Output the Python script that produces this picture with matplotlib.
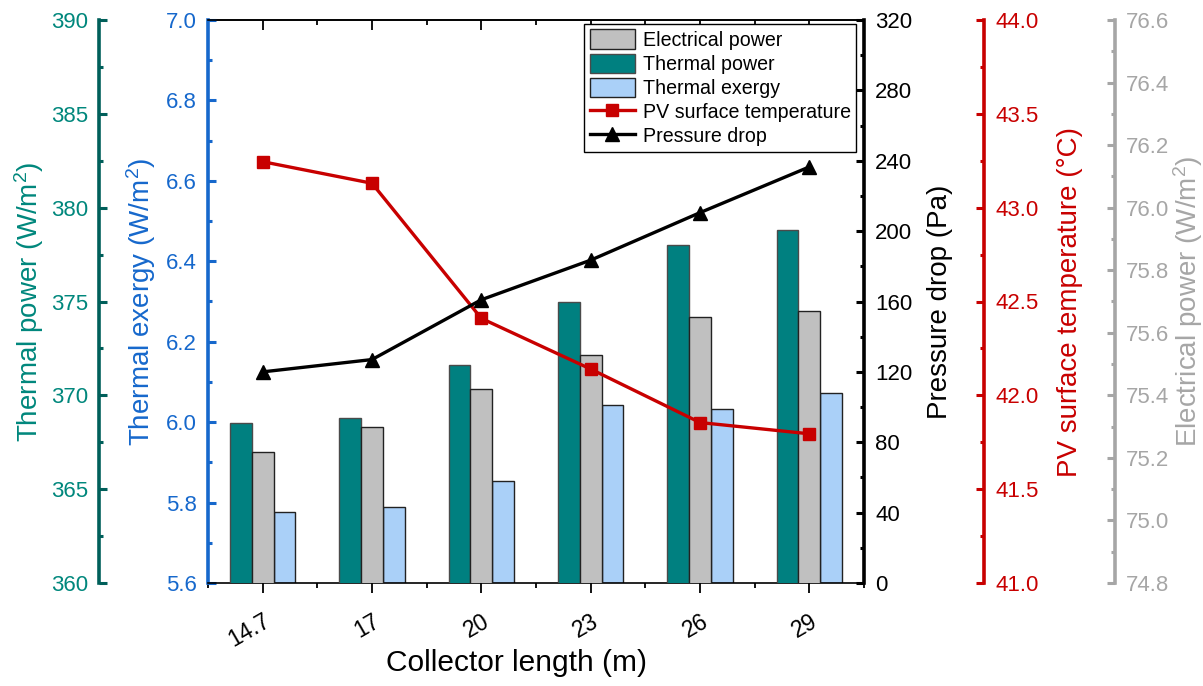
import matplotlib
matplotlib.use('Agg')
import matplotlib.pyplot as plt
import numpy as np
from matplotlib.transforms import ScaledTranslation
from matplotlib.ticker import MultipleLocator, FormatStrFormatter

plt.rcParams['font.family'] = ['Liberation Sans', 'DejaVu Sans']
plt.rcParams['mathtext.fontset'] = 'custom'
plt.rcParams['mathtext.rm'] = 'Liberation Sans'
plt.rcParams['mathtext.it'] = 'Liberation Sans:italic'
plt.rcParams['mathtext.bf'] = 'Liberation Sans:bold'

# ---- data ----
categories = ['14.7', '17', '20', '23', '26', '29']
thermal_power = [368.5, 368.8, 371.6, 375.0, 378.0, 378.8]          # W/m2
electrical_power = [75.22, 75.30, 75.42, 75.53, 75.65, 75.67]       # W/m2
thermal_exergy = [5.777, 5.789, 5.853, 6.042, 6.033, 6.073]         # W/m2
pv_temperature = [43.245, 43.13, 42.41, 42.14, 41.855, 41.795]      # degC
pressure_drop = [120, 127, 161, 183.5, 210.5, 236.5]                # Pa

# ---- colours ----
TEAL_BAR = '#008080'
TEAL_TXT = '#00877C'
TEAL_SPN = '#005F5A'
GRAY_BAR = '#C0C0C0'
GRAY_AX = '#A6A6A6'
BLUE_BAR = '#AAD0F8'
BLUE_AX = '#1668CC'
RED = '#C80000'

W, H = 1203, 686
fig = plt.figure(figsize=(W / 100, H / 100), dpi=100)
L, R, T, B = 208, 864, 20, 583
ax = fig.add_axes([L / W, 1 - B / H, (R - L) / W, (B - T) / H])

x = np.arange(len(categories))
bw = 0.2

TICK_FS = 16
LAB_FS = 20


def style_y(a, color, lo, hi, major, minor, fmt, side, txtcolor=None, spinecolor=None):
    a.set_ylim(lo, hi)
    a.yaxis.set_major_locator(MultipleLocator(major))
    a.yaxis.set_minor_locator(MultipleLocator(minor))
    a.yaxis.set_major_formatter(FormatStrFormatter(fmt))
    sc = spinecolor or color
    tc = txtcolor or color
    a.tick_params(axis='y', which='both', direction='in', colors=sc,
                  labelcolor=tc, labelsize=TICK_FS, width=2.2, pad=8,
                  left=(side == 'left'), right=(side == 'right'),
                  labelleft=(side == 'left'), labelright=(side == 'right'))
    a.tick_params(axis='y', which='major', length=6)
    a.tick_params(axis='y', which='minor', length=3)
    for s in a.spines.values():
        s.set_visible(False)
    a.spines[side].set_visible(True)
    a.spines[side].set_color(sc)
    a.spines[side].set_linewidth(2.6)


# host axis: thermal exergy (blue)
style_y(ax, BLUE_AX, 5.6, 7.0, 0.2, 0.1, '%.1f', 'left')
ax.spines['top'].set_visible(True)
ax.spines['bottom'].set_visible(True)
for s in ('top', 'bottom'):
    ax.spines[s].set_color('black')
    ax.spines[s].set_linewidth(1.2)

# teal axis: thermal power
ax_t = ax.twinx()
ax_t.yaxis.set_ticks_position('left')
ax_t.yaxis.set_label_position('left')
style_y(ax_t, TEAL_TXT, 360, 390, 5, 2.5, '%d', 'left', txtcolor=TEAL_TXT, spinecolor=TEAL_SPN)
ax_t.spines['left'].set_position(('axes', (99 - L) / (R - L)))

# gray axis: electrical power
ax_g = ax.twinx()
style_y(ax_g, GRAY_AX, 74.8, 76.6, 0.2, 0.1, '%.1f', 'right')
ax_g.spines['right'].set_position(('axes', (1115 - L) / (R - L)))

# red axis: PV surface temperature
ax_r = ax.twinx()
style_y(ax_r, RED, 41.0, 44.0, 0.5, 0.25, '%.1f', 'right')
ax_r.spines['right'].set_position(('axes', (984 - L) / (R - L)))

# black axis: pressure drop
ax_p = ax.twinx()
style_y(ax_p, 'black', 0, 320, 40, 20, '%d', 'right')

# bars
b_t = ax_t.bar(x - bw, thermal_power, bw, color=TEAL_BAR, edgecolor='#4A4A4A', linewidth=1.0, label='Thermal power')
b_g = ax_g.bar(x, electrical_power, bw, color=GRAY_BAR, edgecolor='#222222', linewidth=1.0, label='Electrical power')
b_b = ax.bar(x + bw, thermal_exergy, bw, color=BLUE_BAR, edgecolor='#222222', linewidth=1.0, label='Thermal exergy')

# lines
l_r, = ax_r.plot(x, pv_temperature, color=RED, lw=2.4, marker='s', markersize=8.5,
                 markerfacecolor=RED, markeredgecolor=RED, label='PV surface temperature')
l_p, = ax_p.plot(x, pressure_drop, color='black', lw=2.4, marker='^', markersize=10.5,
                 markerfacecolor='black', markeredgecolor='black', label='Pressure drop')

# x axis
ax.set_xlim(-0.5, len(categories) - 0.5)
ax.set_xticks(x)
ax.set_xticks(np.arange(-0.5, len(categories), 1.0), minor=True)
ax.set_xticklabels(categories, rotation=30, ha='right', va='top', fontsize=16.5)
ax.tick_params(axis='x', which='both', direction='out', bottom=True, top=False, width=1.3, colors='black')
ax.tick_params(axis='x', which='major', length=7, pad=12)
ax.tick_params(axis='x', which='minor', length=3.5)
off = ScaledTranslation(12 / 100, 0, fig.dpi_scale_trans)
for lab in ax.get_xticklabels():
    lab.set_transform(lab.get_transform() + off)

sec = ax.secondary_xaxis('top')
sec.set_xticks(x)
sec.set_xticks(np.arange(-0.5, len(categories), 1.0), minor=True)
sec.tick_params(axis='x', which='both', direction='in', labeltop=False, width=1.3)
sec.tick_params(axis='x', which='major', length=7)
sec.tick_params(axis='x', which='minor', length=3.5)
sec.spines['top'].set_linewidth(1.2)

ax.set_xlabel('Collector length (m)', fontsize=21.5)
ax.xaxis.label.set_va('center')
ax.xaxis.set_label_coords((516 - L) / (R - L), (B - 663) / (B - T))

# y labels
def ylab(a, text, px, color):
    a.set_ylabel(text, fontsize=LAB_FS, color=color, rotation=90, va='center', ha='center')
    a.yaxis.set_label_coords((px - L) / (R - L), 0.5)

ylab(ax_t, 'Thermal power (W/m$^2$)', 29, TEAL_TXT)
ylab(ax, 'Thermal exergy (W/m$^2$)', 141, BLUE_AX)
ylab(ax_p, 'Pressure drop (Pa)', 940, 'black')
ylab(ax_r, 'PV surface temperature (\u00b0C)', 1070, RED)
ylab(ax_g, 'Electrical power (W/m$^2$)', 1188, GRAY_AX)

# legend
leg = ax_p.legend([b_g, b_t, b_b, l_r, l_p],
                  ['Electrical power', 'Thermal power', 'Thermal exergy',
                   'PV surface temperature', 'Pressure drop'],
                  loc='upper right', bbox_to_anchor=(856 / W, 1 - 24 / H),
                  bbox_transform=fig.transFigure, borderaxespad=0,
                  fontsize=14.1, frameon=True, fancybox=False, framealpha=1,
                  edgecolor='black', handlelength=2.3, handleheight=1.12,
                  handletextpad=0.4, labelspacing=0.2, borderpad=0.28)
leg.get_frame().set_linewidth(1.0)

fig.savefig('out.png', dpi=100)
